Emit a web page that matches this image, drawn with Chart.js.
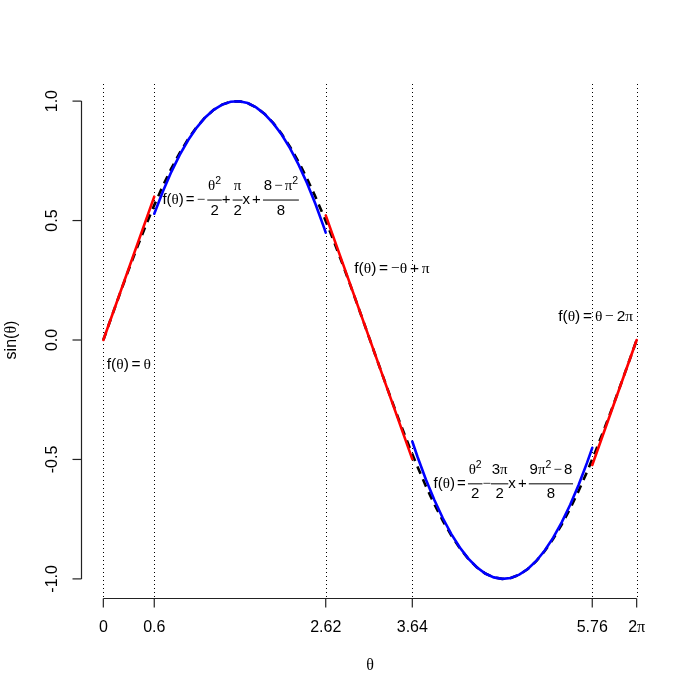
<!DOCTYPE html>
<html><head><meta charset="utf-8">
<script src="https://cdn.jsdelivr.net/npm/chart.js@4/dist/chart.umd.min.js"></script>
<style>html,body{margin:0;padding:0;background:#fff}#wrap{width:700px;height:700px}</style>
</head><body><div id="wrap"><canvas id="c" width="700" height="700"></canvas></div>
<script>
// ---- data (theta, value) ----
const sinTheta = [0,0.1,0.2,0.3,0.4,0.5,0.6,0.7,0.8,0.9,1.0,1.1,1.2,1.3,1.4,1.5,1.6,1.7,1.8,1.9,2.0,2.1,2.2,2.3,2.4,2.5,2.6,2.7,2.8,2.9,3.0,3.1,3.2,3.3,3.4,3.5,3.6,3.7,3.8,3.9,4.0,4.1,4.2,4.3,4.4,4.5,4.6,4.7,4.8,4.9,5.0,5.1,5.2,5.3,5.4,5.5,5.6,5.7,5.8,5.9,6.0,6.1,6.2,6.2832];
const sinValues = [0,0.0998,0.1987,0.2955,0.3894,0.4794,0.5646,0.6442,0.7174,0.7833,0.8415,0.8912,0.9320,0.9636,0.9854,0.9975,0.9996,0.9917,0.9738,0.9463,0.9093,0.8632,0.8085,0.7457,0.6755,0.5985,0.5155,0.4274,0.3350,0.2392,0.1411,0.0416,-0.0584,-0.1577,-0.2555,-0.3508,-0.4425,-0.5298,-0.6119,-0.6878,-0.7568,-0.8183,-0.8716,-0.9162,-0.9516,-0.9775,-0.9937,-0.9999,-0.9962,-0.9825,-0.9589,-0.9258,-0.8835,-0.8323,-0.7728,-0.7055,-0.6313,-0.5507,-0.4646,-0.3739,-0.2794,-0.1822,-0.0831,0];

const quad1Theta = [0.6,0.7,0.8,0.9,1.0,1.1,1.2,1.3,1.4,1.5,1.6,1.7,1.8,1.9,2.0,2.1,2.2,2.3,2.4,2.5,2.6,2.62];
const quad1Values = [0.5288,0.6209,0.7029,0.7750,0.8371,0.8892,0.9313,0.9633,0.9854,0.9975,0.9996,0.9917,0.9737,0.9458,0.9079,0.8600,0.8021,0.7341,0.6562,0.5683,0.4704,0.4496];

const quad2Theta = [3.64,3.7,3.8,3.9,4.0,4.1,4.2,4.3,4.4,4.5,4.6,4.7,4.8,4.9,5.0,5.1,5.2,5.3,5.4,5.5,5.6,5.7,5.76];
const quad2Values = [-0.4250,-0.4875,-0.5838,-0.6700,-0.7463,-0.8125,-0.8687,-0.9150,-0.9512,-0.9775,-0.9937,-0.9999,-0.9962,-0.9824,-0.9586,-0.9249,-0.8811,-0.8274,-0.7636,-0.6899,-0.6061,-0.5123,-0.4513];

const line1Theta = [0, 0.6];        const line1Values = [0, 0.6];
const line2Theta = [2.62, 3.64];    const line2Values = [0.5216, -0.4984];
const line3Theta = [5.76, 6.2832];  const line3Values = [-0.5232, 0];

const breakTheta = [0, 0.6, 2.62, 3.64, 5.76, 6.283185];
const xTickLabels = ['0', '0.6', '2.62', '3.64', '5.76', '2π'];
const yTicks = [-1, -0.5, 0, 0.5, 1];
const yTickLabels = ['-1.0', '-0.5', '0.0', '0.5', '1.0'];

const labelTheta = [0.3, 3.4, 5.8, 1.5, 4.712389];
const labelValue = [-0.1, 0.3, 0.1, 0.588, -0.6];
const labelExprs = [
  ['f(θ) = θ'],
  ['f(θ) = −θ + π'],
  ['f(θ) = θ − 2π'],
  ['f(θ) = − ', {n: 'θ^2', d: '2'}, '+ ', {n: 'π', d: '2'}, 'x + ', {n: '8 − π^2', d: '8'}],
  ['f(θ) = ', {n: 'θ^2', d: '2'}, '−', {n: '3π', d: '2'}, 'x + ', {n: '9π^2 − 8', d: '8'}]
];
const xTitle = 'θ';
const yTitle = 'sin(θ)';

// ---- helpers ----
const SANS = '"Liberation Sans", Arimo, Arial, sans-serif';
const SERIF = '"Liberation Serif", "Times New Roman", serif';
const FS = 16;
function zip(a, b) { return a.map((v, i) => ({x: v, y: b[i]})); }
function isSym(c) { return 'θπ−'.indexOf(c) >= 0; }

function strRuns(ctx, s, size, gapF) {
  const g = size * (gapF || 0.18);
  const runs = []; let i = 0;
  while (i < s.length) {
    let c = s[i];
    if (c === ' ') { runs.push({gap: g, w: g}); i++; continue; }
    let sz = size, dy = 0;
    if (c === '^') { i++; c = s[i]; sz = size * 0.7; dy = -size * 0.42; }
    const font = sz + 'px ' + (isSym(c) ? SERIF : SANS);
    ctx.font = font;
    runs.push({txt: c, font: font, dy: dy, w: ctx.measureText(c).width});
    i++;
  }
  return runs;
}
function runsWidth(r) { return r.reduce((s, q) => s + q.w, 0); }
function drawRuns(ctx, runs, x, base) {
  for (const r of runs) {
    if (r.txt) { ctx.font = r.font; ctx.fillText(r.txt, x, base + r.dy); }
    x += r.w;
  }
}
function drawExpr(ctx, items, cx, cy, size, gapF) {
  const parts = items.map(it => {
    if (typeof it === 'string') { const r = strRuns(ctx, it, size, gapF); return {runs: r, w: runsWidth(r)}; }
    const rn = strRuns(ctx, it.n, size, gapF), rd = strRuns(ctx, it.d, size, gapF);
    const wn = runsWidth(rn), wd = runsWidth(rd);
    const pad = size * 0.05;
    return {frac: true, rn, rd, wn, wd, w: Math.max(wn, wd) + 2 * pad};
  });
  const total = parts.reduce((s, p) => s + p.w, 0);
  let x = cx - total / 2;
  const base = cy + size * 0.33;
  ctx.fillStyle = '#000'; ctx.textBaseline = 'alphabetic'; ctx.textAlign = 'left';
  for (const p of parts) {
    if (p.frac) {
      drawRuns(ctx, p.rn, x + (p.w - p.wn) / 2, cy - size * 0.62);
      drawRuns(ctx, p.rd, x + (p.w - p.wd) / 2, cy + size * 1.0);
      ctx.strokeStyle = '#000'; ctx.lineWidth = 1; ctx.setLineDash([]);
      ctx.beginPath(); ctx.moveTo(x, cy + 0.5); ctx.lineTo(x + p.w, cy + 0.5); ctx.stroke();
    } else {
      drawRuns(ctx, p.runs, x, base);
    }
    x += p.w;
  }
}

const decor = {
  id: 'decor',
  beforeDatasetsDraw(chart) {
    const ctx = chart.ctx, xs = chart.scales.x, a = chart.chartArea;
    ctx.save();
    ctx.strokeStyle = '#000'; ctx.lineWidth = 1; ctx.setLineDash([1, 3]);
    for (const t of breakTheta) {
      const px = Math.round(xs.getPixelForValue(t)) + 0.5;
      ctx.beginPath(); ctx.moveTo(px, a.top + 2); ctx.lineTo(px, a.bottom - 1); ctx.stroke();
    }
    ctx.restore();
  },
  afterDatasetsDraw(chart) {
    const ctx = chart.ctx, xs = chart.scales.x, ys = chart.scales.y, a = chart.chartArea;
    ctx.save();
    ctx.setLineDash([]);
    ctx.strokeStyle = '#222'; ctx.lineWidth = 1.2;
    // y axis
    const ax = a.left - 0.5;
    ctx.beginPath(); ctx.moveTo(ax, ys.getPixelForValue(yTicks[0])); ctx.lineTo(ax, ys.getPixelForValue(yTicks[yTicks.length - 1])); ctx.stroke();
    yTicks.forEach((v, i) => {
      const py = ys.getPixelForValue(v);
      ctx.beginPath(); ctx.moveTo(ax, py); ctx.lineTo(ax - 9, py); ctx.stroke();
      ctx.save(); ctx.translate(52.5, py); ctx.rotate(-Math.PI / 2);
      ctx.fillStyle = '#000'; ctx.font = FS + 'px ' + SANS; ctx.textAlign = 'center'; ctx.textBaseline = 'middle';
      ctx.fillText(yTickLabels[i], 0, 0); ctx.restore();
    });
    // x axis
    const ay = a.bottom + 0.5;
    ctx.beginPath(); ctx.moveTo(xs.getPixelForValue(breakTheta[0]), ay); ctx.lineTo(xs.getPixelForValue(breakTheta[breakTheta.length - 1]), ay); ctx.stroke();
    breakTheta.forEach((v, i) => {
      const px = xs.getPixelForValue(v);
      ctx.beginPath(); ctx.moveTo(px, ay); ctx.lineTo(px, ay + 9); ctx.stroke();
      const runs = strRuns(ctx, xTickLabels[i], FS);
      ctx.fillStyle = '#000'; ctx.textAlign = 'left'; ctx.textBaseline = 'alphabetic';
      drawRuns(ctx, runs, px - runsWidth(runs) / 2, 632);
    });
    // titles
    ctx.fillStyle = '#000'; ctx.textAlign = 'left'; ctx.textBaseline = 'alphabetic';
    const tr = strRuns(ctx, xTitle, FS);
    drawRuns(ctx, tr, (a.left + a.right) / 2 - runsWidth(tr) / 2, 670);
    ctx.save(); ctx.translate(16, (a.top + a.bottom) / 2); ctx.rotate(-Math.PI / 2);
    const yr = strRuns(ctx, yTitle, FS);
    drawRuns(ctx, yr, -runsWidth(yr) / 2, 0); ctx.restore();
    // annotations
    labelExprs.forEach((e, i) => {
      const hasFrac = e.some(it => typeof it !== 'string');
      drawExpr(ctx, e, xs.getPixelForValue(labelTheta[i]), ys.getPixelForValue(labelValue[i]),
               hasFrac ? 15 : 15.5, hasFrac ? 0.14 : 0.18);
    });
    ctx.restore();
  }
};

const common = {pointRadius: 0, borderWidth: 2.6, fill: false, tension: 0, borderCapStyle: 'round'};
new Chart(document.getElementById('c'), {
  type: 'line',
  data: {
    datasets: [
      Object.assign({data: zip(line1Theta, line1Values), borderColor: '#ff0000'}, common),
      Object.assign({data: zip(line2Theta, line2Values), borderColor: '#ff0000'}, common),
      Object.assign({data: zip(line3Theta, line3Values), borderColor: '#ff0000'}, common),
      Object.assign({data: zip(quad1Theta, quad1Values), borderColor: '#0000ff'}, common),
      Object.assign({data: zip(quad2Theta, quad2Values), borderColor: '#0000ff'}, common),
      Object.assign({}, common, {data: zip(sinTheta, sinValues), borderColor: '#000000', borderDash: [8, 6], borderCapStyle: 'butt', borderWidth: 2.6})
    ]
  },
  options: {
    responsive: false, animation: false, devicePixelRatio: 1,
    layout: {padding: {left: 82, right: 42, top: 82, bottom: 102}},
    scales: {
      x: {type: 'linear', min: -0.251327, max: 6.534513, display: false},
      y: {type: 'linear', min: -1.08, max: 1.08, display: false}
    },
    plugins: {legend: {display: false}, tooltip: {enabled: false}}
  },
  plugins: [decor]
});
</script>
</body></html>
